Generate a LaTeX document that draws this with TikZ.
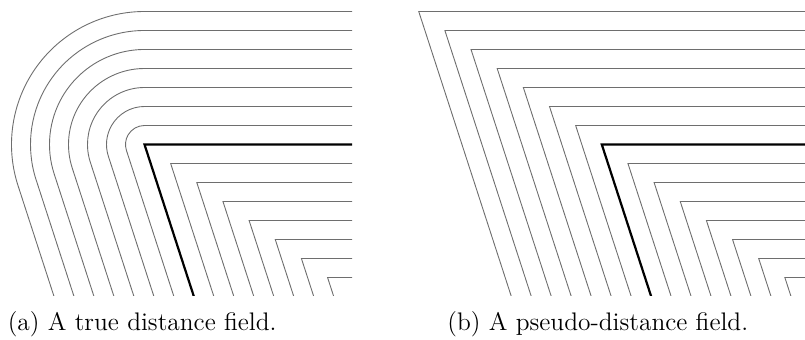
\documentclass[tikz,border=0pt]{standalone}
\usetikzlibrary{calc}

\tikzset{every picture/.style={line width=0.75pt}}
\tikzset{
  isoline/.style={draw={rgb, 255:red, 110; green, 110; blue, 110}, line width=0.45pt},
  edgeline/.style={draw=black, line width=1.1pt, line join=miter},
  captext/.style={inner sep=0pt, anchor=base west, font=\fontsize{12.7}{15}\selectfont}
}

\begin{document}
\begin{tikzpicture}[x=0.5pt,y=0.5pt,yscale=-1]
\useasboundingbox (0,0) rectangle (805,340);

\coordinate (cornerA) at (144.5,144.5);
\coordinate (cornerB) at (601.8,144.5);

%Panel (a): true distance field
\begin{scope}
\clip (0,0) rectangle (352,295.5);
\foreach \k in {1,...,7}{
  \pgfmathsetmacro{\r}{19*\k}
  \pgfmathsetmacro{\m}{1.3764*19*\k}
  %Shape: outer contour, rounded
  \draw [isoline] (352,144.5-\r) -- (144.5,144.5-\r) arc[start angle=270, end angle=162, radius=\r] -- ++(72:220) ;
  %Shape: inner contour
  \draw [isoline] (352,144.5+\r) -- (144.5+\m,144.5+\r) -- ++(72:220) ;
}
%Shape: edge
\draw [edgeline] (352,144.5) -- (cornerA) -- ++(72:220) ;
\end{scope}

%Panel (b): pseudo-distance field
\begin{scope}
\clip (400,0) rectangle (805,295.5);
\foreach \k in {1,...,7}{
  \pgfmathsetmacro{\r}{19*\k}
  \pgfmathsetmacro{\m}{1.3764*19*\k}
  %Shape: outer contour, sharp
  \draw [isoline] (805,144.5-\r) -- (601.8-\m,144.5-\r) -- ++(72:320) ;
  %Shape: inner contour
  \draw [isoline] (805,144.5+\r) -- (601.8+\m,144.5+\r) -- ++(72:220) ;
}
%Shape: edge
\draw [edgeline] (805,144.5) -- (cornerB) -- ++(72:220) ;
\end{scope}

% Captions
\node [captext] (capA) at (7,331) {(a) A true distance field.};
\node [captext] (capB) at (446.7,331) {(b) A pseudo-distance field.};

\end{tikzpicture}
\end{document}
